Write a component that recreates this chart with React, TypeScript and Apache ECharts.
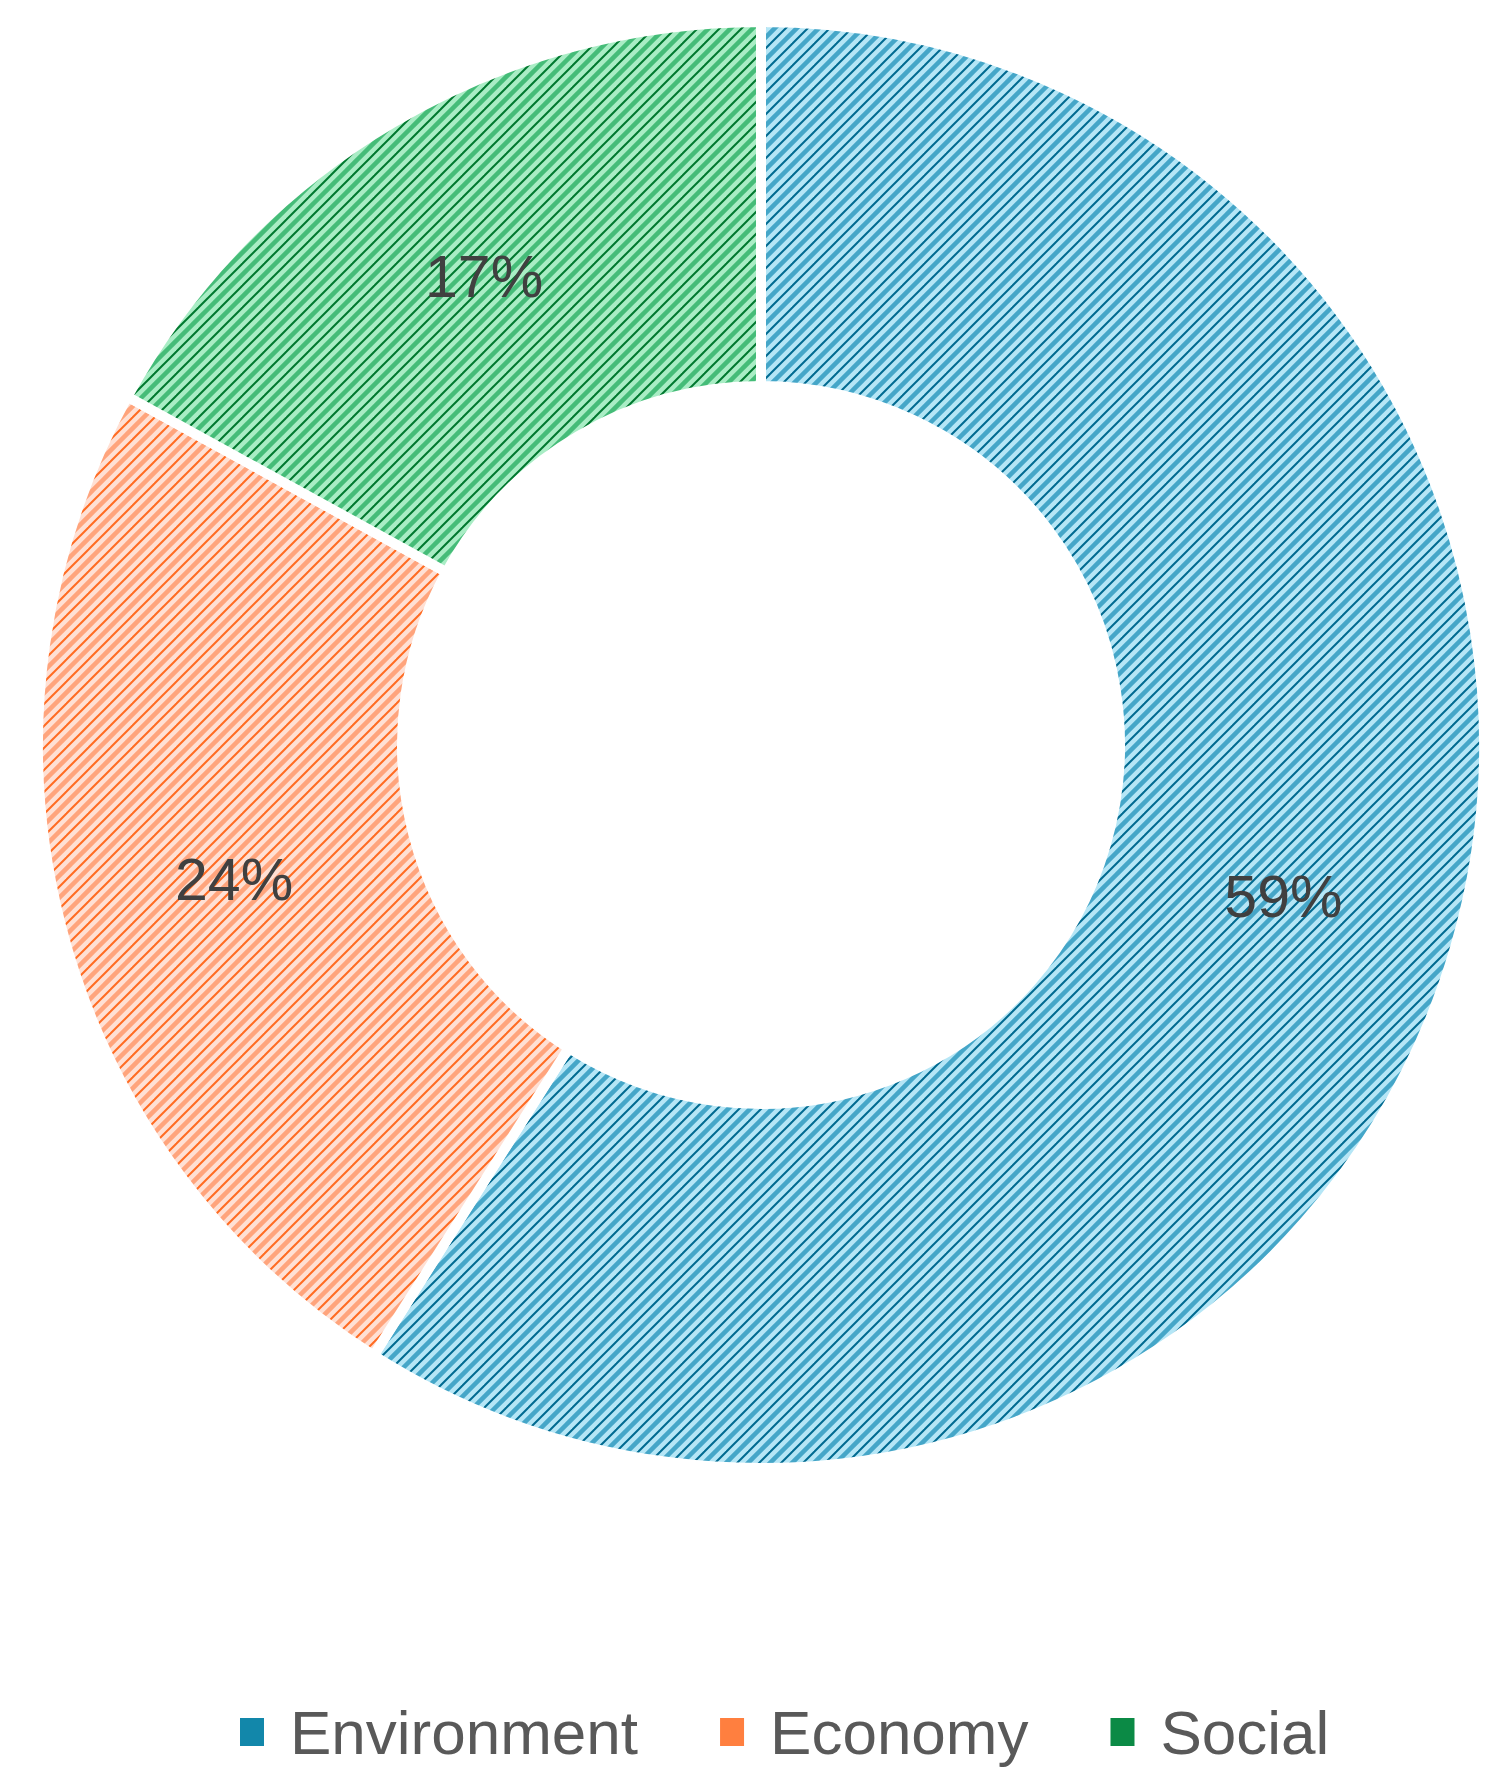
import React, { useEffect, useRef } from "react";
import * as echarts from "echarts";

const categories = ["Environment", "Economy", "Social"];
const values = [59, 24, 17];
const bgColors = ["#B5E6F6", "#FFE0D4", "#A9EDC5"];
const midColors = ["#45A6C8", "#FFA47C", "#45BC78"];
const darkColors = ["#006A90", "#FF6B22", "#00782F"];
const legendColors = ["#1287AA", "#FF7F3F", "#0B8A45"];

function makeTile(bg: string, mid: string, dark: string) {
  const N = 22;
  const c = document.createElement("canvas");
  c.width = N;
  c.height = N;
  const ctx = c.getContext("2d")!;
  ctx.fillStyle = bg;
  ctx.fillRect(0, 0, N, N);
  const drawLine = (offset: number, width: number, color: string) => {
    ctx.strokeStyle = color;
    ctx.lineWidth = width;
    for (let k = -2; k <= 3; k++) {
      const s = k * N + offset;
      ctx.beginPath();
      ctx.moveTo(s + N, -N);
      ctx.lineTo(s - 2 * N, 2 * N);
      ctx.stroke();
    }
  };
  drawLine(N / 2, 4.5, mid);
  drawLine(0, 2, dark);
  return c;
}

export default function App() {
  const ref = useRef<HTMLDivElement>(null);
  useEffect(() => {
    if (!ref.current) return;
    const chart = echarts.init(ref.current, null, { renderer: "svg" });
    const data = categories.map((name, i) => ({
      name,
      value: values[i],
      itemStyle: {
        color: { image: makeTile(bgColors[i], midColors[i], darkColors[i]), repeat: "repeat" } as any,
      },
    }));
    chart.setOption({
      animation: false,
      backgroundColor: "#ffffff",
      legend: {
        left: 233,
        top: 1696,
        itemWidth: 26,
        itemHeight: 30,
        itemGap: 80,
        icon: "rect",
        textStyle: {
          fontFamily: "Liberation Sans, Arial, sans-serif",
          fontSize: 62,
          color: "#595959",
          padding: [0, 0, 0, 20],
        },
        data: categories.map((name, i) => ({
          name,
          itemStyle: { color: legendColors[i] },
        })),
      },
      series: [
        {
          type: "pie",
          center: [761, 745],
          radius: [359, 723],
          startAngle: 90,
          clockwise: true,
          avoidLabelOverlap: false,
          itemStyle: { borderColor: "#ffffff", borderWidth: 10 },
          label: {
            show: true,
            position: "inside",
            formatter: "{d}%",
            fontFamily: "Liberation Sans, Arial, sans-serif",
            fontSize: 59,
            color: "#404040",
          },
          labelLine: { show: false },
          emphasis: { disabled: true },
          data,
        },
      ],
    });
    return () => chart.dispose();
  }, []);
  return (
    <div
      ref={ref}
      style={{ position: "absolute", left: 0, top: 0, width: 1510, height: 1786 }}
    />
  );
}
